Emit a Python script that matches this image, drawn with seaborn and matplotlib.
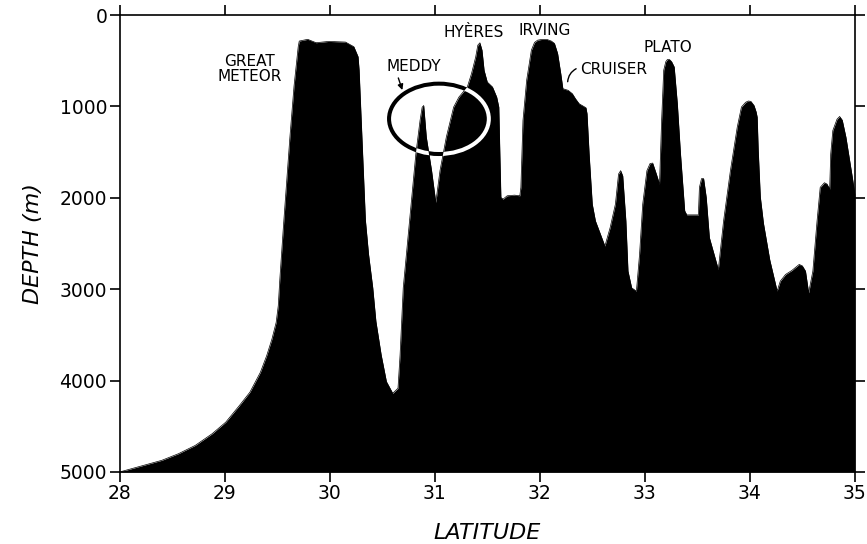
import numpy as np
import pandas as pd
import seaborn as sns
import matplotlib
matplotlib.use("Agg")
import matplotlib.pyplot as plt
from matplotlib.patches import Ellipse

# ---- data: bathymetric section (latitude, depth in m) ----
lat = [28.00, 28.23, 28.40, 28.56, 28.72, 28.88, 29.01, 29.14, 29.24, 29.34,
       29.40, 29.45, 29.49, 29.51, 29.525, 29.56, 29.62, 29.66, 29.70,
       29.71, 29.79, 29.87, 29.99, 30.15, 30.23, 30.27, 30.28, 30.30, 30.32,
       30.34, 30.37, 30.41, 30.44, 30.49, 30.54, 30.60, 30.65, 30.67, 30.70,
       30.76, 30.82, 30.86, 30.88, 30.895, 30.92, 30.97, 31.01, 31.05, 31.11,
       31.18, 31.23, 31.31, 31.35, 31.39, 31.41, 31.43, 31.45, 31.47, 31.50,
       31.55, 31.59, 31.61, 31.62, 31.63, 31.65, 31.69, 31.76, 31.81, 31.82,
       31.84, 31.875, 31.92, 31.95, 31.98, 32.02, 32.07, 32.11, 32.14, 32.17,
       32.20, 32.22, 32.27, 32.31, 32.34, 32.375, 32.44, 32.45, 32.47, 32.50,
       32.53, 32.62, 32.67, 32.72, 32.75, 32.77, 32.79, 32.82, 32.84, 32.875,
       32.92, 32.95, 32.98, 33.02, 33.05, 33.075, 33.11, 33.14, 33.16, 33.18,
       33.20, 33.215, 33.235, 33.255, 33.28, 33.31, 33.34, 33.38, 33.40, 33.51,
       33.52, 33.54, 33.56, 33.585, 33.615, 33.66, 33.70, 33.75, 33.815, 33.88,
       33.92, 33.96, 33.985, 34.01, 34.04, 34.06, 34.07, 34.08, 34.10, 34.13,
       34.19, 34.26, 34.29, 34.34, 34.40, 34.47, 34.50, 34.53, 34.56, 34.60,
       34.64, 34.67, 34.71, 34.735, 34.76, 34.77, 34.79, 34.83, 34.855, 34.88,
       34.915, 34.976, 35.00]
depth = [5000, 4927, 4873, 4800, 4709, 4582, 4455, 4273, 4127, 3909,
         3727, 3545, 3364, 3182, 2891, 2300, 1350, 780, 347,
         285, 266, 303, 289, 296, 347, 456, 602, 1150, 1700,
         2245, 2619, 2985, 3352, 3718, 4011, 4139, 4084, 3718, 2985,
         2253, 1520, 1154, 1010, 990, 1337, 1703, 2051, 1703, 1337,
         1007, 898, 788, 641, 458, 330, 304, 385, 605, 733,
         788, 898, 1007, 1520, 1996, 2015, 1978, 1971, 1978, 1886,
         1154, 714, 385, 300, 275, 267, 268, 285, 311, 421,
         641, 806, 824, 861, 916, 971, 1015, 1080, 1520, 2070,
         2253, 2528, 2326, 2070, 1740, 1703, 1760, 2253, 2802, 2985,
         3022, 2619, 2070, 1703, 1625, 1620, 1740, 1850, 1154, 604,
         510, 487, 487, 510, 568, 971, 1520, 2143, 2187, 2187,
         1886, 1790, 1790, 1996, 2436, 2619, 2784, 2253, 1703, 1227,
         1007, 955, 941, 945, 990, 1060, 1117, 1480, 1990, 2280,
         2680, 3020, 2912, 2839, 2795, 2729, 2745, 2802, 3040, 2802,
         2253, 1886, 1835, 1850, 1905, 1520, 1264, 1140, 1110, 1150,
         1337, 1776, 1960]

x_ticks = [28, 29, 30, 31, 32, 33, 34, 35]
y_ticks = [0, 1000, 2000, 3000, 4000, 5000]

feature_names = ["GREAT\nMETEOR", "MEDDY", "HYÈRES", "IRVING", "CRUISER", "PLATO"]
feature_lat = [29.24, 30.80, 31.37, 32.05, 32.70, 33.22]
feature_depth = [590, 560, 192, 165, 600, 350]

# ---- figure ----
sns.set_style("ticks")
plt.rcParams["font.family"] = ["DejaVu Sans"]

fig = plt.figure(figsize=(8.67, 5.44), dpi=100)
ax = fig.add_axes([0.138, 0.1324, 0.848, 0.840])

df = pd.DataFrame({"lat": lat, "depth": depth})
sns.lineplot(data=df, x="lat", y="depth", color="black", lw=0.5, sort=False,
             ax=ax, zorder=3)
poly = ax.fill_between(df["lat"], df["depth"], 5000, color="black", lw=0,
                       zorder=2)

ax.set_xlim(28, 35)
ax.set_ylim(5000, 0)
ax.set_xticks(x_ticks)
ax.set_yticks(y_ticks)
ax.set_xticklabels([str(t) for t in x_ticks])
ax.set_yticklabels([str(t) for t in y_ticks])

for s in ax.spines.values():
    s.set_visible(True)
    s.set_linewidth(1.2)
    s.set_color("black")
ax.tick_params(axis="both", which="major", direction="out", length=7,
               width=1.2, colors="black", labelcolor="black", labelsize=13.5,
               pad=2, top=True, right=True, labeltop=False, labelright=False)

ax.set_xlabel("LATITUDE", fontsize=16, fontstyle="italic", labelpad=14,
              color="black")
ax.set_ylabel("DEPTH (m)", fontsize=16, fontstyle="italic", labelpad=12,
              color="black")

# Meddy ellipse drawn XOR-style: black on white, white on black
ell_center = (31.04, 1136)
ell_w, ell_h = 0.95, 770
e1 = Ellipse(ell_center, ell_w, ell_h, fill=False, ec="black", lw=2.9,
             zorder=5)
ax.add_patch(e1)
e2 = Ellipse(ell_center, ell_w, ell_h, fill=False, ec="white", lw=2.9,
             zorder=6)
ax.add_patch(e2)
e2.set_clip_path(poly.get_paths()[0], ax.transData)

# feature labels
for name, fx, fy in zip(feature_names, feature_lat, feature_depth):
    ax.text(fx, fy, name, ha="center", va="center", fontsize=11,
            linespacing=1.05, color="black", zorder=7)

# Meddy arrow
ax.annotate("", xy=(30.70, 850), xytext=(30.645, 660),
            arrowprops=dict(arrowstyle="-|>", color="black", lw=1.0,
                            mutation_scale=8), zorder=7)
# Cruiser leader
ax.annotate("", xy=(32.265, 760), xytext=(32.37, 575),
            arrowprops=dict(arrowstyle="-", color="black", lw=1.0,
                            connectionstyle="arc3,rad=0.35"), zorder=7)

fig.savefig("out.png", dpi=100, facecolor="white")
